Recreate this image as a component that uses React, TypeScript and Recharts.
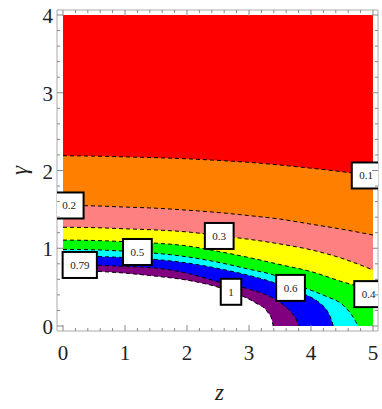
import { ComposedChart, Area, Scatter, XAxis, YAxis } from "recharts";

// contour boundaries, [z, gamma] pairs
const c01 = [[0, 2.19], [0.5, 2.185], [1, 2.175], [1.5, 2.165], [2, 2.15], [2.5, 2.13], [3, 2.105], [3.5, 2.07], [4, 2.03], [4.5, 1.985], [5, 1.935]];
const c02 = [[0, 1.55], [0.5, 1.545], [1, 1.53], [1.5, 1.515], [2, 1.49], [2.5, 1.46], [3, 1.42], [3.5, 1.375], [4, 1.31], [4.5, 1.245], [5, 1.17]];
const c03 = [[0, 1.27], [0.5, 1.265], [1, 1.25], [1.5, 1.235], [2, 1.21], [2.5, 1.165], [3, 1.115], [3.5, 1.055], [4, 0.98], [4.5, 0.87], [5, 0.72]];
const c04 = [[0, 1.105], [0.5, 1.1], [1, 1.085], [1.5, 1.065], [2, 1.03], [2.5, 0.96], [3, 0.88], [3.5, 0.79], [4, 0.7], [4.5, 0.57], [4.75, 0.51], [5, 0.43]];
const c05 = [[0, 0.985], [0.5, 0.98], [1, 0.962], [1.5, 0.935], [2, 0.89], [2.5, 0.82], [3, 0.73], [3.4, 0.655], [3.75, 0.54], [4, 0.46], [4.25, 0.38], [4.5, 0.28], [4.65, 0.15], [4.72, 0.06], [4.76, 0]];
const c06 = [[0, 0.9], [0.5, 0.895], [1, 0.88], [1.5, 0.855], [2, 0.81], [2.5, 0.74], [3, 0.65], [3.3, 0.585], [3.6, 0.5], [3.85, 0.42], [4, 0.37], [4.15, 0.29], [4.25, 0.21], [4.32, 0.1], [4.36, 0]];
const c079 = [[0, 0.8], [0.5, 0.785], [1, 0.765], [1.5, 0.745], [2, 0.68], [2.5, 0.57], [3, 0.475], [3.25, 0.41], [3.45, 0.33], [3.6, 0.24], [3.7, 0.16], [3.77, 0.07], [3.8, 0]];
const c1 = [[0, 0.72], [0.5, 0.705], [1, 0.68], [1.5, 0.64], [2, 0.59], [2.5, 0.5], [2.85, 0.4], [3.1, 0.3], [3.3, 0.18], [3.37, 0.08], [3.39, 0]];
const topEdge = [[0, 4], [5, 4]];

const labelText = ["0.1", "0.2", "0.3", "0.4", "0.5", "0.6", "0.79", "1"];
const labelZ = [4.89, 0.1, 2.52, 4.93, 1.2, 3.67, 0.27, 2.71];
const labelG = [1.936, 1.55, 1.158, 0.41, 0.952, 0.49, 0.785, 0.44];

const zTicks = [0, 0.2, 0.4, 0.6, 0.8, 1, 1.2, 1.4, 1.6, 1.8, 2, 2.2, 2.4, 2.6, 2.8, 3, 3.2, 3.4, 3.6, 3.8, 4, 4.2, 4.4, 4.6, 4.8, 5];
const gTicks = [0, 0.2, 0.4, 0.6, 0.8, 1, 1.2, 1.4, 1.6, 1.8, 2, 2.2, 2.4, 2.6, 2.8, 3, 3.2, 3.4, 3.6, 3.8, 4];

const toPoints = (pts: number[][]) => pts.map(([z, g]) => ({ z, g }));
const labels = labelText.map((t, i) => ({ z: labelZ[i], g: labelG[i], t }));

const FRAME = "#aaaaaa";
const TICK = "#888888";
const FONT = "'Liberation Serif', 'Times New Roman', serif";

const makeTick = (side: string) => (props: any) => {
  const { x, y, payload } = props;
  const v = payload.value;
  const major = Number.isInteger(v);
  const len = major ? 6 : 3;
  if (side === "bottom") {
    return (
      <g>
        <line x1={x} x2={x} y1={y} y2={y - len} stroke={TICK} />
        {major && (
          <text x={x} y={y + 29} textAnchor="middle" fontFamily={FONT} fontSize={21} fill="#222">{v}</text>
        )}
      </g>
    );
  }
  if (side === "top") return <line x1={x} x2={x} y1={y} y2={y + len} stroke={TICK} />;
  if (side === "left") {
    return (
      <g>
        <line x1={x} x2={x + len} y1={y} y2={y} stroke={TICK} />
        {major && (
          <text x={x - 4} y={y + 8} textAnchor="end" fontFamily={FONT} fontSize={21} fill="#222">{v}</text>
        )}
      </g>
    );
  }
  return <line x1={x} x2={x - len} y1={y} y2={y} stroke={TICK} />;
};

const ContourLabel = (props: any) => {
  const { cx, cy, payload } = props;
  const t: string = payload.t;
  const w = t.replace(".", "").length * 5.5 + (t.includes(".") ? 2.75 : 0) + 15;
  const h = 26;
  return (
    <g>
      <rect x={cx - w / 2} y={cy - h / 2} width={w} height={h} fill="#fff" stroke="#000" strokeWidth={2} />
      <text x={cx} y={cy + 4} textAnchor="middle" fontFamily={FONT} fontSize={11} fill="#222">{t}</text>
    </g>
  );
};

const bands = [
  { pts: c01, fill: "#ff8000" },
  { pts: c02, fill: "#ff8080" },
  { pts: c03, fill: "#ffff00" },
  { pts: c04, fill: "#00ff00" },
  { pts: c05, fill: "#00ffff" },
  { pts: c06, fill: "#0000ff" },
  { pts: c079, fill: "#800080" },
  { pts: c1, fill: "#ffffff" },
];

export default function App() {
  return (
    <div style={{ position: "absolute", left: 0, top: 0 }}>
      <ComposedChart width={382} height={409} margin={{ top: 8, right: 0, bottom: 0, left: 0 }}>
        <XAxis
          dataKey="z"
          type="number"
          domain={[-0.097, 5.081]}
          allowDataOverflow
          ticks={zTicks}
          interval={0}
          height={78}
          tickSize={0}
          tickMargin={0}
          tickLine={false}
          axisLine={{ stroke: FRAME }}
          tick={makeTick("bottom")}
          label={(p: any) => {
            const vb = p.viewBox || { x: 57, y: 331, width: 321 };
            return (
              <text x={vb.x + vb.width / 2 + 2} y={vb.y + 69} textAnchor="middle" fontFamily={FONT} fontStyle="italic" fontSize={23} fill="#222">z</text>
            );
          }}
        />
        <XAxis
          xAxisId="top"
          orientation="top"
          dataKey="z"
          type="number"
          domain={[-0.097, 5.081]}
          allowDataOverflow
          ticks={zTicks}
          interval={0}
          height={2}
          tickSize={0}
          tickMargin={0}
          tickLine={false}
          axisLine={{ stroke: FRAME }}
          tick={makeTick("top")}
        />
        <YAxis
          dataKey="g"
          type="number"
          domain={[-0.0643, 4.0643]}
          allowDataOverflow
          ticks={gTicks}
          interval={0}
          width={57}
          tickSize={0}
          tickMargin={0}
          tickLine={false}
          axisLine={{ stroke: FRAME }}
          tick={makeTick("left")}
          label={(p: any) => {
            const vb = p.viewBox || { x: 0, y: 10, width: 57, height: 321 };
            const cx = vb.x + 27;
            const cy = vb.y + vb.height / 2;
            return (
              <text x={cx} y={cy} transform={`rotate(-90 ${cx} ${cy})`} textAnchor="middle" fontFamily={FONT} fontStyle="italic" fontSize={23} fill="#222">γ</text>
            );
          }}
        />
        <YAxis
          yAxisId="right"
          orientation="right"
          dataKey="g"
          type="number"
          domain={[-0.0643, 4.0643]}
          allowDataOverflow
          ticks={gTicks}
          interval={0}
          width={4}
          tickSize={0}
          tickMargin={0}
          tickLine={false}
          axisLine={{ stroke: FRAME }}
          tick={makeTick("right")}
        />
        <Area
          data={toPoints(topEdge)}
          dataKey="g"
          type="linear"
          fill="#ff0000"
          fillOpacity={1}
          stroke="none"
          isAnimationActive={false}
        />
        {bands.map((b, i) => (
          <Area
            key={i}
            data={toPoints(b.pts)}
            dataKey="g"
            type="monotone"
            fill={b.fill}
            fillOpacity={1}
            stroke="#000"
            strokeWidth={1}
            strokeDasharray="4 3"
            isAnimationActive={false}
          />
        ))}
        <Scatter data={labels} dataKey="g" shape={(p: any) => <ContourLabel {...p} />} isAnimationActive={false} />
      </ComposedChart>
    </div>
  );
}
